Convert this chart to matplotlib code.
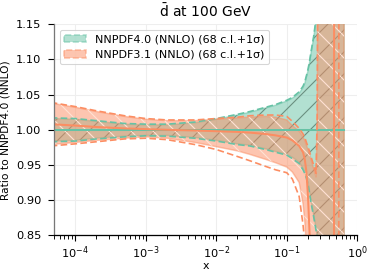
import matplotlib
matplotlib.use("Agg")
import matplotlib.pyplot as plt
from matplotlib.patches import Patch
import numpy as np

# ---------------- data ----------------
x = [4.5e-5, 1e-4, 2e-4, 5e-4, 1e-3, 2e-3, 5e-3, 1e-2, 2e-2, 3e-2, 5e-2, 7e-2,
     0.1, 0.12, 0.15, 0.17, 0.18, 0.19, 0.2, 0.21, 0.22, 0.24, 0.26, 0.27,
     0.28, 0.3, 0.35, 0.4, 0.45, 0.48, 0.53, 0.56, 0.6, 0.65]

# NNPDF4.0 (reference -> central = 1)
n40_central = [1.0] * len(x)
n40_up68 = [1.016, 1.015, 1.012, 1.008, 1.007, 1.007, 1.010, 1.015, 1.021, 1.025, 1.031, 1.035,
            1.041, 1.045, 1.052, 1.060, 1.066, 1.075, 1.084, 1.095, 1.108, 1.130, 1.155, 1.200,
            1.300, 1.600, 2.0, 2.0, 2.0, 2.0, 2.0, 2.0, 2.0, 2.0]
n40_lo68 = [0.984, 0.985, 0.988, 0.991, 0.992, 0.992, 0.989, 0.985, 0.980, 0.978, 0.973, 0.969,
            0.965, 0.961, 0.954, 0.945, 0.940, 0.933, 0.925, 0.913, 0.900, 0.880, 0.860, 0.850,
            0.830, 0.600, 0.2, 0.0, 0.0, 0.0, 0.0, 0.0, 0.0, 0.0]
n40_up1s = [1.017, 1.016, 1.013, 1.009, 1.008, 1.008, 1.011, 1.016, 1.022, 1.026, 1.032, 1.036,
            1.042, 1.046, 1.054, 1.062, 1.068, 1.077, 1.086, 1.097, 1.110, 1.132, 1.158, 1.205,
            1.310, 1.620, 2.0, 2.0, 2.0, 2.0, 2.0, 2.0, 2.0, 2.0]
n40_lo1s = [0.983, 0.984, 0.987, 0.990, 0.9915, 0.991, 0.988, 0.984, 0.979, 0.977, 0.972, 0.968,
            0.964, 0.959, 0.952, 0.943, 0.938, 0.931, 0.922, 0.910, 0.897, 0.877, 0.857, 0.846,
            0.826, 0.590, 0.2, 0.0, 0.0, 0.0, 0.0, 0.0, 0.0, 0.0]

# NNPDF3.1 ratio to NNPDF4.0
n31_central = [1.008, 1.006, 1.004, 1.002, 1.001, 1.000, 0.999, 0.998, 0.997, 0.996, 0.994, 0.992,
               0.989, 0.985, 0.977, 0.968, 0.958, 0.940, 0.905, 0.855, 0.800, 0.600, 0.300, 0.0,
               -0.3, -1.0, -2.0, -3.0, -4.0, 4.0, 4.0, 4.0, 4.0, 4.0]
n31_up68 = [1.038, 1.032, 1.026, 1.019, 1.015, 1.013, 1.013, 1.015, 1.017, 1.018, 1.019, 1.018,
            1.014, 1.006, 0.998, 0.990, 0.985, 0.978, 0.972, 0.965, 0.958, 0.945, 0.933, 1.000,
            1.400, 3.0, 3.0, 3.0, 3.0, 3.0, 3.0, 3.0, 3.0, 3.0]
n31_lo68 = [0.979, 0.982, 0.985, 0.988, 0.990, 0.988, 0.982, 0.976, 0.970, 0.965, 0.958, 0.953,
            0.947, 0.940, 0.925, 0.895, 0.870, 0.835, 0.790, 0.730, 0.650, 0.400, 0.0, -3.0,
            -3.0, -3.0, -3.0, -3.0, -3.0, -3.0, -3.0, -3.0, -3.0, -3.0]
n31_up1s = [1.039, 1.033, 1.027, 1.020, 1.016, 1.014, 1.014, 1.016, 1.018, 1.020, 1.021, 1.021,
            1.019, 1.012, 1.002, 0.994, 0.989, 0.982, 0.976, 0.969, 0.962, 0.950, 0.938, 1.020,
            1.450, 3.0, 3.0, 3.0, 3.0, 3.0, 3.0, 3.0, 3.0, 3.0]
n31_lo1s = [0.977, 0.980, 0.983, 0.987, 0.988, 0.986, 0.979, 0.972, 0.962, 0.956, 0.948, 0.943,
            0.939, 0.930, 0.905, 0.865, 0.840, 0.800, 0.750, 0.680, 0.600, 0.300, -0.2, -0.5,
            -1.0, -2.0, -3.0, -3.0, -3.0, -3.0, -3.0, 4.0, 4.0, 4.0]

labels = ["NNPDF4.0 (NNLO) (68 c.l.+1σ)", "NNPDF3.1 (NNLO) (68 c.l.+1σ)"]
title = r"$\bar{\mathrm{d}}$ at 100 GeV"
xlabel = "x"
ylabel = "Ratio to NNPDF4.0 (NNLO)"
yticks = [0.85, 0.90, 0.95, 1.00, 1.05, 1.10, 1.15]
xticks = [1e-4, 1e-3, 1e-2, 1e-1, 1e0]

# ---------------- style ----------------
DPI = 132
plt.rcParams['font.family'] = ['DejaVu Sans']
plt.rcParams['hatch.linewidth'] = 0.6

green = "#66c2a5"
orange = "#fc8d62"
green_hatch = "#6a8f80"
orange_hatch = "#ffe2d4"

fig = plt.figure(figsize=(374 / DPI, 276 / DPI), dpi=DPI)
ax = fig.add_axes([54 / 374, 1 - 235.3 / 276, (357.3 - 54) / 374, (235.3 - 24.3) / 276])

series = [
    (green, green_hatch, '//', n40_central, n40_up68, n40_lo68, n40_up1s, n40_lo1s),
    (orange, orange_hatch, '\\\\', n31_central, n31_up68, n31_lo68, n31_up1s, n31_lo1s),
]

handles = []
for color, hcol, hatch, c, u68, l68, u1, l1 in series:
    ax.fill_between(x, l68, u68, facecolor=color, alpha=0.5, edgecolor=color,
                    linewidth=0.8, zorder=1)
    ax.fill_between(x, l68, u68, facecolor='none', edgecolor=hcol, hatch=hatch,
                    linewidth=0, zorder=1)
    ax.plot(x, c, color=color, lw=1.1, zorder=2)
    ax.plot(x, u1, color=color, lw=0.9, ls=(0, (4, 2)), zorder=2)
    ax.plot(x, l1, color=color, lw=0.9, ls=(0, (4, 2)), zorder=2)
    h = (Patch(facecolor=color, alpha=0.5, edgecolor=color, linestyle='--', linewidth=0.9),
         Patch(facecolor='none', edgecolor=hcol, hatch=hatch[0], linewidth=0))
    handles.append(h)

ax.set_xscale('log')
ax.set_xlim(5e-5, 1.0)
ax.set_ylim(0.85, 1.15)
ax.set_yticks(yticks)
ax.set_xticks(xticks)
ax.tick_params(labelsize=6.2, width=0.6, length=3.5)
ax.tick_params(axis='x', pad=1.5)
ax.tick_params(which='minor', width=0.5, length=2)
ax.grid(True, which='major', color='#eeeeee', lw=0.6, zorder=0)
ax.set_axisbelow(True)
for s in ['top', 'right']:
    ax.spines[s].set_visible(False)
for s in ['left', 'bottom']:
    ax.spines[s].set_linewidth(0.7)
ax.spines['left'].set_color('#777777')

ax.set_title(title, fontsize=7.6, pad=4)
ax.set_xlabel(xlabel, fontsize=6.0, labelpad=0)
ax.set_ylabel(ylabel, fontsize=5.8, labelpad=3)

leg = ax.legend(handles, labels, loc='upper left', fontsize=6.1, frameon=True,
                fancybox=True, borderaxespad=0.5)
leg.get_frame().set_edgecolor('#cccccc')
leg.get_frame().set_linewidth(0.6)

fig.savefig("out.png", dpi=DPI)
